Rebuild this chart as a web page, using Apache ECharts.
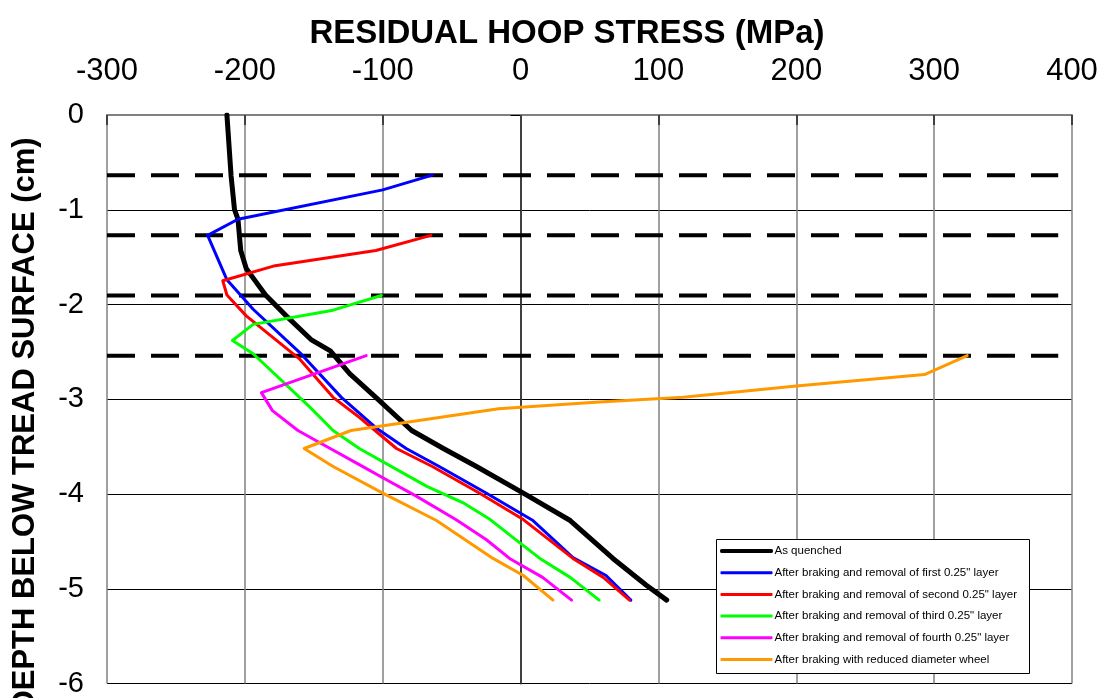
<!DOCTYPE html>
<html>
<head>
<meta charset="utf-8">
<script src="https://cdn.jsdelivr.net/npm/echarts@6/dist/echarts.min.js"></script>
<style>
  html, body { margin: 0; padding: 0; background: #fff; }
  #chart { width: 1102px; height: 698px; }
</style>
</head>
<body>
<div id="chart"></div>
<script>
// Residual hoop stress (MPa) against depth below the tread surface (cm)
const seriesNames = [
  'As quenched',
  'After braking and removal of first 0.25" layer',
  'After braking and removal of second 0.25" layer',
  'After braking and removal of third 0.25" layer',
  'After braking and removal of fourth 0.25" layer',
  'After braking with reduced diameter wheel'
];
const seriesColors = ['#000000', '#0000FF', '#FF0000', '#00FF00', '#FF00FF', '#FF9900'];

// [stress MPa, depth cm]
const asQuenched = [[-213,0],[-210,-0.64],[-207.5,-1.0],[-205,-1.1],[-203,-1.43],[-199,-1.62],[-193,-1.74],[-185,-1.9],[-170,-2.12],[-152,-2.37],[-138,-2.49],[-124,-2.73],[-105,-2.98],[-79,-3.33],[-56,-3.52],[-32,-3.71],[2,-3.99],[36,-4.28],[67,-4.68],[91,-4.96],[106,-5.12]];
const firstLayer = [[-64,-0.635],[-100,-0.79],[-205,-1.1],[-227,-1.27],[-213,-1.74],[-194,-2.05],[-160,-2.51],[-130,-2.98],[-105,-3.3],[-83,-3.52],[-59,-3.71],[-25,-3.99],[9,-4.28],[38,-4.67],[62,-4.86],[80,-5.12]];
const secondLayer = [[-65,-1.27],[-105,-1.43],[-178,-1.59],[-216,-1.75],[-213,-1.9],[-199,-2.12],[-160,-2.58],[-136,-2.98],[-117,-3.19],[-90,-3.52],[-64,-3.71],[-30,-3.99],[2,-4.27],[38,-4.68],[60,-4.88],[79,-5.12]];
const thirdLayer = [[-101,-1.905],[-136,-2.06],[-194,-2.21],[-209,-2.38],[-194,-2.52],[-153,-3.08],[-136,-3.33],[-117,-3.52],[-68,-3.92],[-42,-4.09],[-22,-4.27],[-1,-4.51],[14,-4.68],[36,-4.88],[57,-5.12]];
const fourthLayer = [[-112,-2.54],[-188,-2.93],[-180,-3.12],[-161.5,-3.33],[-143,-3.48],[-117,-3.69],[-96,-3.86],[-76,-4.02],[-47,-4.27],[-25,-4.48],[-8,-4.68],[16,-4.88],[37,-5.12]];
const reducedWheel = [[324,-2.54],[293,-2.74],[200,-2.86],[118,-2.98],[57,-3.03],[-16,-3.10],[-123,-3.33],[-157,-3.52],[-136,-3.71],[-100,-3.99],[-61,-4.28],[-20,-4.68],[2,-4.86],[23.5,-5.12]];
const curves = [asQuenched, firstLayer, secondLayer, thirdLayer, fourthLayer, reducedWheel];

// depths of the removed 0.25" layers (cm) and the stress span of their marker lines
const layerDepths = [-0.635, -1.27, -1.905, -2.54];
const layerLineSpan = [-300, 390];

// axis ticks
const stressTicks = [-300, -200, -100, 0, 100, 200, 300, 400];
const depthTicks = [0, -1, -2, -3, -4, -5, -6];

const FONT = "'Liberation Sans', Arial, Helvetica, sans-serif";

const chart = echarts.init(document.getElementById('chart'), null, { renderer: 'canvas' });

const layerSeries = layerDepths.map(d => ({
  type: 'line',
  silent: true,
  showSymbol: false,
  symbol: 'none',
  z: 1,
  data: layerLineSpan.map(s => [s, d]),
  lineStyle: { color: '#000', width: 4, type: [28, 16] }
}));

const curveSeries = curves.map((c, i) => ({
  name: seriesNames[i],
  type: 'line',
  symbol: 'none',
  showSymbol: false,
  z: 2 + i,
  data: c,
  lineStyle: { color: seriesColors[i], width: i === 0 ? 5 : 3, cap: 'round', join: 'round' },
  itemStyle: { color: seriesColors[i] }
}));

// legend entries drawn as plain strokes; the first one is thicker
const legendData = seriesNames.map((n, i) => ({
  name: n,
  icon: 'roundRect',
  itemStyle: i === 0
    ? { color: seriesColors[i], borderColor: seriesColors[i], borderWidth: 1 }
    : { color: seriesColors[i], borderWidth: 0 }
}));

chart.setOption({
  animation: false,
  backgroundColor: '#fff',
  title: {
    text: 'RESIDUAL HOOP STRESS (MPa)',
    left: 562, top: 12, textAlign: 'center',
    textStyle: { fontFamily: FONT, fontWeight: 'bold', fontSize: 33, color: '#000' }
  },
  grid: { left: 107, right: 30, top: 115, bottom: 9, containLabel: false },
  xAxis: {
    type: 'value', position: 'top',
    min: stressTicks[0], max: stressTicks[stressTicks.length - 1], interval: 100,
    axisLine: { show: true, lineStyle: { color: '#808080', width: 2 } },
    axisTick: { show: true, inside: true, length: 10, lineStyle: { color: '#404040', width: 2 } },
    axisLabel: { fontFamily: FONT, fontSize: 31, color: '#000', margin: 28 },
    splitLine: { show: true, lineStyle: { color: '#808080', width: 1.5 } }
  },
  yAxis: {
    type: 'value',
    min: depthTicks[depthTicks.length - 1], max: depthTicks[0], interval: 1,
    axisLine: { show: true, lineStyle: { color: '#404040', width: 2 } },
    axisTick: { show: true, inside: false, length: 10, lineStyle: { color: '#000', width: 1 } },
    axisLabel: { fontFamily: FONT, fontSize: 29, color: '#000', margin: 23 },
    splitLine: { show: true, lineStyle: { color: '#000', width: 1 } }
  },
  legend: {
    data: legendData,
    orient: 'vertical', left: 720, top: 545,
    itemWidth: 52, itemHeight: 3, itemGap: 9.7, padding: 0,
    textStyle: { fontFamily: FONT, fontSize: 11.5, color: '#000', padding: [0, 0, 0, -3] },
    selectedMode: false,
    z: 10
  },
  graphic: [
    {
      type: 'rect', z: 8,
      shape: { x: 716.5, y: 539.5, width: 313, height: 134 },
      style: { fill: '#fff', stroke: '#000', lineWidth: 1 }
    },
    {
      type: 'text', z: 8,
      x: 25, y: 425, rotation: Math.PI / 2,
      style: {
        text: 'DEPTH BELOW TREAD SURFACE (cm)',
        font: 'bold 31px ' + FONT,
        fill: '#000', align: 'center', verticalAlign: 'middle'
      }
    }
  ],
  series: layerSeries.concat(curveSeries)
});
</script>
</body>
</html>
